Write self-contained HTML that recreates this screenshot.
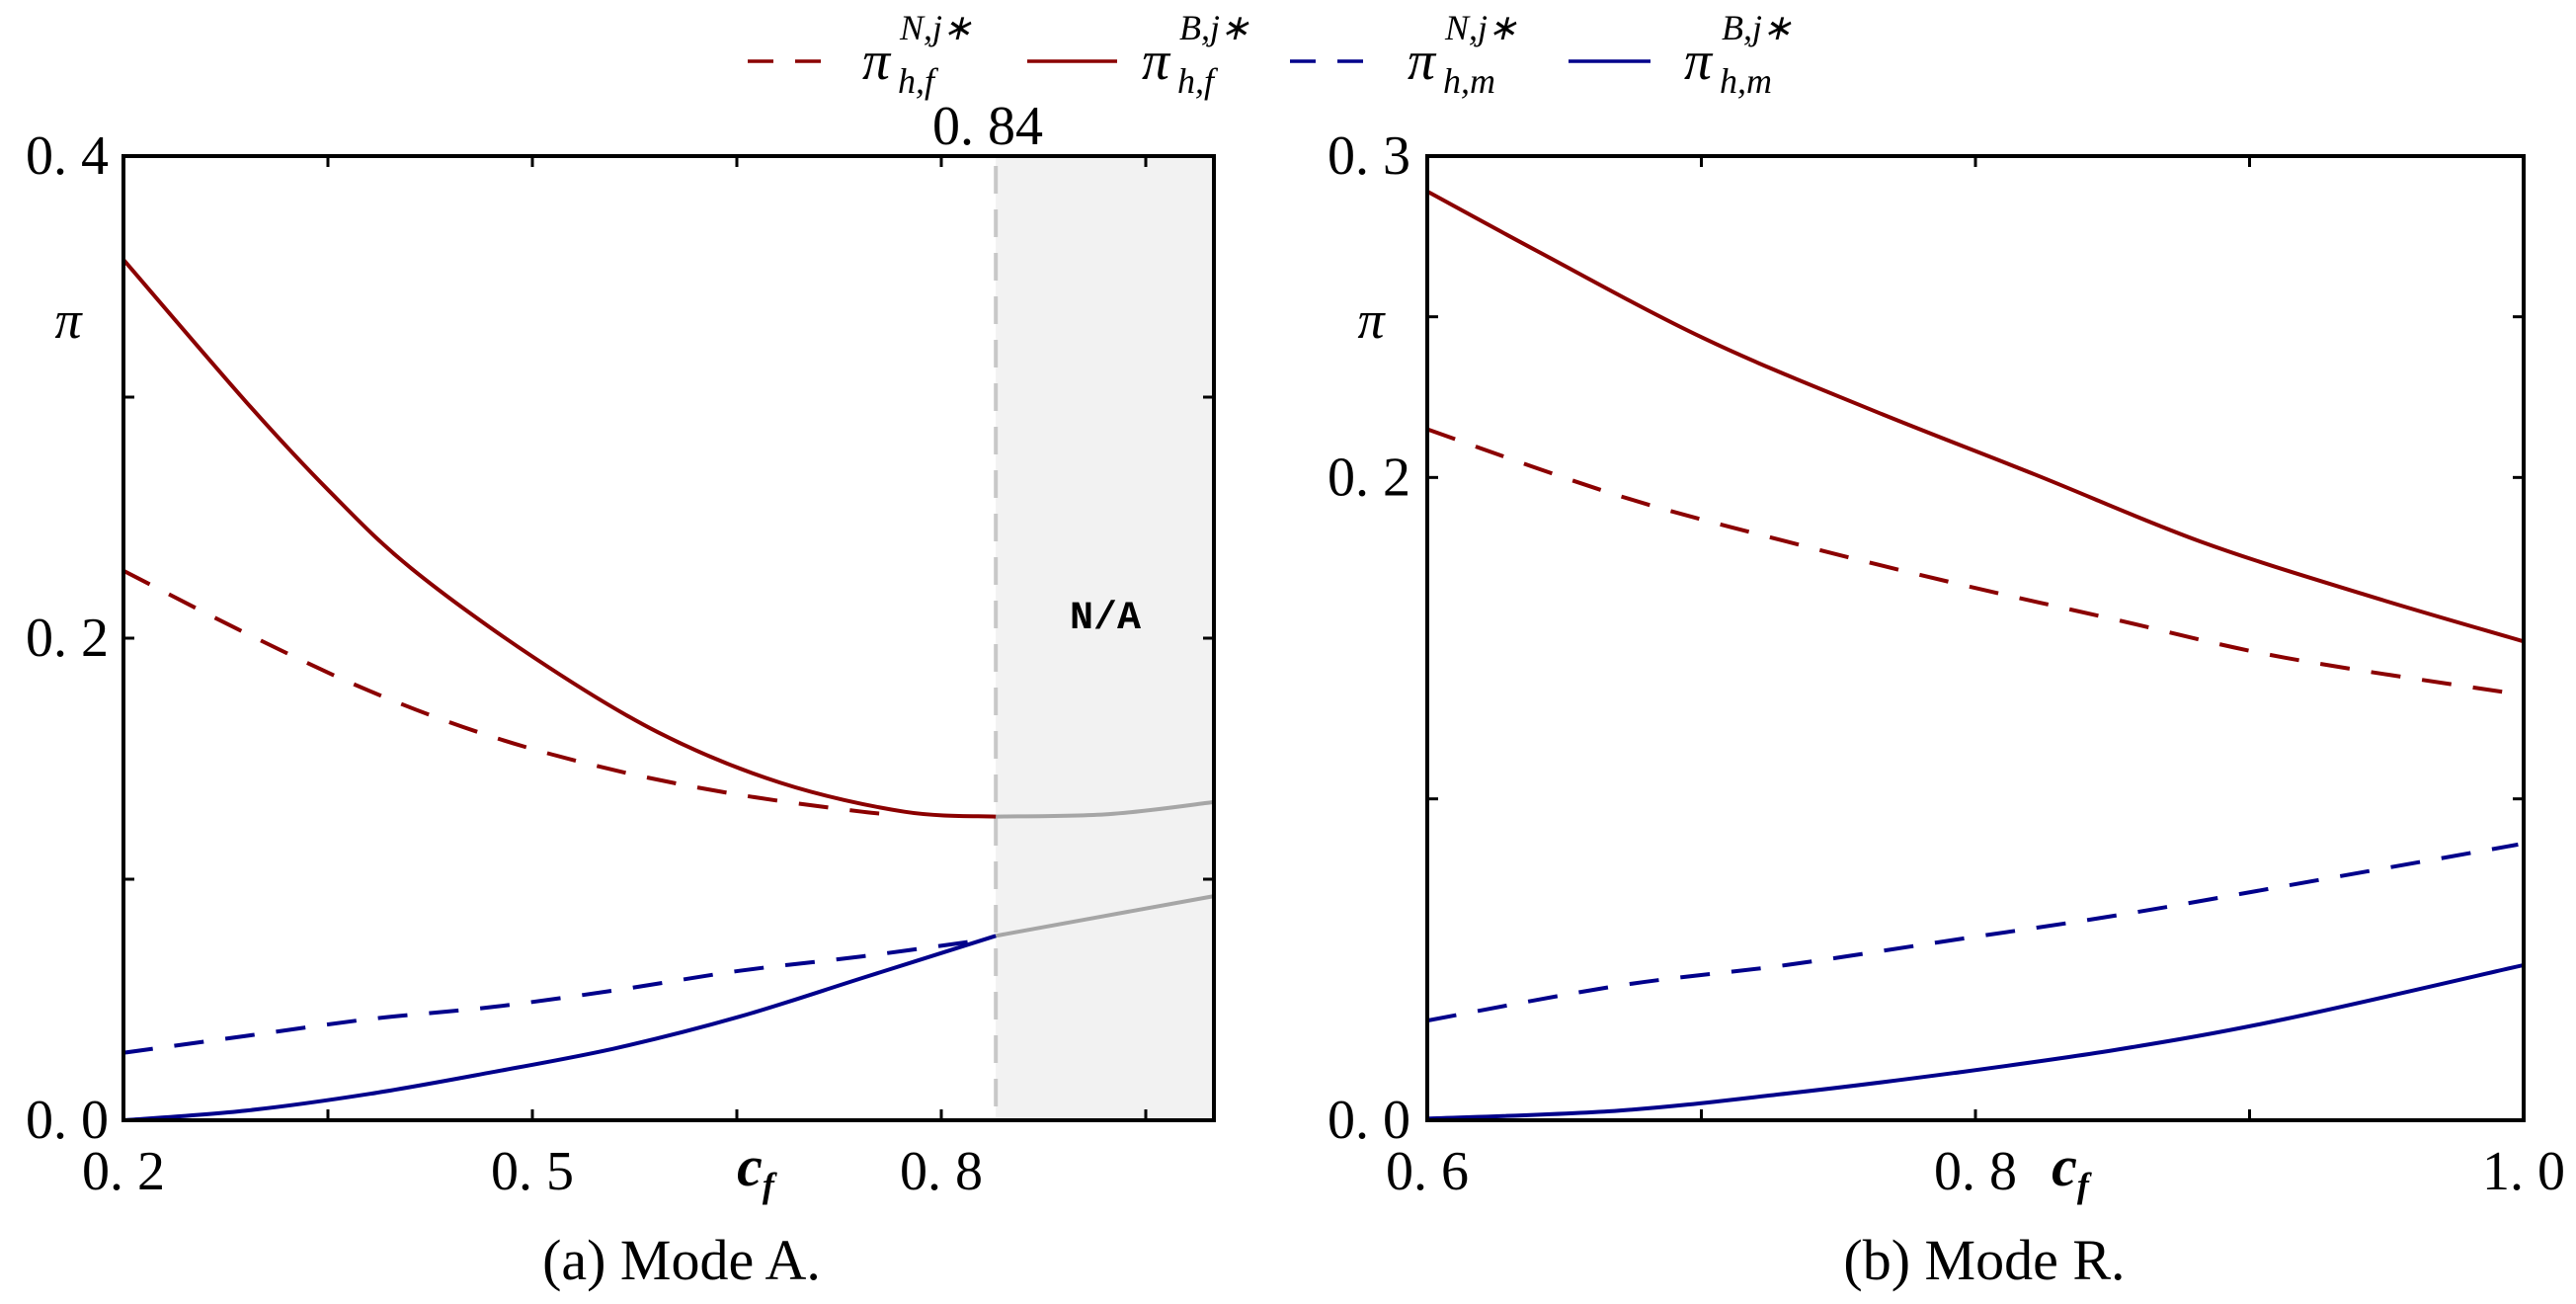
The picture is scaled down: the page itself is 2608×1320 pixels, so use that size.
<!DOCTYPE html>
<html><head><meta charset="utf-8"><style>
html,body{margin:0;padding:0;background:#fff}
svg{display:block}
.tick{font-family:"Liberation Serif",serif;font-size:56px;fill:#000}
.cap{font-family:"Liberation Serif",serif;font-size:58px;fill:#000}
.sym{font-family:"Liberation Serif",serif;font-style:italic;fill:#000}
</style></head><body>
<svg id="chart" width="2608" height="1320" viewBox="0 0 2608 1320" xmlns="http://www.w3.org/2000/svg">
<g id="legend"></g>
<g id="pa"></g>
<g id="pb"></g>
</svg>
<script>
// Panel A data
const aX_Bf=[0.2,0.29,0.351,0.411,0.501,0.592,0.682,0.773,0.84];
const aY_Bf=[0.357,0.298,0.261,0.229,0.192,0.161,0.140,0.128,0.126];
const aX_Bf_gray=[0.84,0.923,1.0];
const aY_Bf_gray=[0.126,0.127,0.132];
const aX_Nf=[0.2,0.29,0.381,0.471,0.562,0.652,0.742,0.767];
const aY_Nf=[0.228,0.202,0.178,0.159,0.145,0.135,0.128,0.127];
const aX_Nm=[0.2,0.29,0.381,0.471,0.562,0.652,0.742,0.833];
const aY_Nm=[0.028,0.035,0.042,0.047,0.054,0.062,0.068,0.075];
const aX_Bm=[0.2,0.29,0.381,0.471,0.562,0.652,0.742,0.84];
const aY_Bm=[0.0,0.004,0.011,0.02,0.03,0.043,0.059,0.0765];
const aX_Bm_gray=[0.84,1.0];
const aY_Bm_gray=[0.0765,0.093];
const aXTicks=[0.2,0.35,0.5,0.65,0.8,0.95];
const aXLabels=["0. 2","","0. 5","","0. 8",""];
const aYTicks=[0,0.1,0.2,0.3,0.4];
const aYLabels=["0. 0","","0. 2","","0. 4"];
const aThreshold=0.84;
// Panel B data
const bX=[0.6,0.64,0.7006,0.761,0.822,0.882,0.943,1.0];
const bY_Bf=[0.289,0.2705,0.2434,0.2214,0.2008,0.1801,0.1633,0.149];
const bX_Nf=[0.6,0.670,0.731,0.792,0.852,0.913,1.0];
const bY_Nf=[0.215,0.1943,0.1801,0.1672,0.1556,0.1439,0.1323];
const bX_m=[0.6,0.670,0.731,0.792,0.852,0.913,0.998];
const bY_Nm=[0.031,0.0419,0.0483,0.0561,0.0638,0.0729,0.0858];
const bX_Bm=[0.6,0.670,0.731,0.792,0.852,0.913,1.0];
const bY_Bm=[0.0005,0.003,0.0083,0.0147,0.022,0.0315,0.0483];
const bXTicks=[0.6,0.7,0.8,0.9,1.0];
const bXLabels=["0. 6","","0. 8","","1. 0"];
const bYTicks=[0,0.1,0.2,0.25,0.3];
const bYLabels=["0. 0","","0. 2","","0. 3"];

const NS="http://www.w3.org/2000/svg";
const RED="#8b0000",BLUE="#00008b",GRAY="#a6a6a6";
function mk(parent,tag,attrs,text){const e=document.createElementNS(NS,tag);for(const k in attrs)e.setAttribute(k,attrs[k]);if(text!==undefined)e.textContent=text;parent.appendChild(e);return e;}
function scale(d0,d1,r0,r1){return v=>r0+(v-d0)/(d1-d0)*(r1-r0);}
function smoothPath(P){
  let d="M"+P[0][0].toFixed(1)+","+P[0][1].toFixed(1);
  for(let i=0;i<P.length-1;i++){
    const p0=P[i-1]||P[i],p1=P[i],p2=P[i+1],p3=P[i+2]||P[i+1];
    const c1=[p1[0]+(p2[0]-p0[0])/6,p1[1]+(p2[1]-p0[1])/6];
    const c2=[p2[0]-(p3[0]-p1[0])/6,p2[1]-(p3[1]-p1[1])/6];
    d+=" C"+c1.map(v=>v.toFixed(1)).join(",")+" "+c2.map(v=>v.toFixed(1)).join(",")+" "+p2[0].toFixed(1)+","+p2[1].toFixed(1);
  }
  return d;
}
function line(g,xs,ys,sx,sy,color,dash,name){
  const P=xs.map((x,i)=>[sx(x),sy(ys[i])]);
  const p=mk(g,"path",{d:smoothPath(P),fill:"none",stroke:color,"stroke-width":4,"stroke-linejoin":"round"});
  if(dash)p.setAttribute("stroke-dasharray","30,22");
  
  
}
function axes(g,L,R,T,B,sx,sy,xt,xl,yt,yl,yLabelX){
  const f=mk(g,"rect",{x:L,y:T,width:R-L,height:B-T,fill:"none",stroke:"#000","stroke-width":4});
  
  
  xt.forEach((v,i)=>{const x=sx(v);
    mk(g,"line",{x1:x,y1:B,x2:x,y2:B-11,stroke:"#000","stroke-width":3});
    mk(g,"line",{x1:x,y1:T,x2:x,y2:T+11,stroke:"#000","stroke-width":3});
    if(xl[i]){const t=mk(g,"text",{x:x,y:B+70,"text-anchor":"middle",class:"tick"},xl[i]);
      
      }
  });
  yt.forEach((v,i)=>{const y=sy(v);
    mk(g,"line",{x1:L,y1:y,x2:L+11,y2:y,stroke:"#000","stroke-width":3});
    mk(g,"line",{x1:R,y1:y,x2:R-11,y2:y,stroke:"#000","stroke-width":3});
    if(yl[i]){const t=mk(g,"text",{x:yLabelX,y:y+18,"text-anchor":"end",class:"tick"},yl[i]);
      
      }
  });
}
// Panel A
(function(){
  const g=document.getElementById("pa");
  const L=125,R=1229,T=158,B=1134;
  const sx=scale(0.2,1.0,L,R),sy=scale(0,0.4,B,T);
  const xs=sx(aThreshold);
  const sh=mk(g,"rect",{x:xs,y:T,width:R-xs,height:B-T,fill:"#f2f2f2"});
  
  
  const vl=mk(g,"line",{x1:xs,y1:T+10,x2:xs,y2:B,stroke:"#c8c8c8","stroke-width":4,"stroke-dasharray":"28,16"});
  
  
  const na=mk(g,"text",{x:1119,y:636,"text-anchor":"middle","font-family":"Liberation Mono,monospace","font-weight":"bold","font-size":"40"},"N/A");
  
  
  const th=mk(g,"text",{x:1000,y:146,"text-anchor":"middle",class:"tick","font-size":"46"},"0. 84");
  
  
  line(g,aX_Bf_gray,aY_Bf_gray,sx,sy,GRAY,false,'bf-gray');
  line(g,aX_Bm_gray,aY_Bm_gray,sx,sy,GRAY,false,'bm-gray');
  line(g,aX_Nf,aY_Nf,sx,sy,RED,true,'series-n-hf');
  line(g,aX_Bf,aY_Bf,sx,sy,RED,false,'series-b-hf');
  line(g,aX_Nm,aY_Nm,sx,sy,BLUE,true,'series-n-hm');
  line(g,aX_Bm,aY_Bm,sx,sy,BLUE,false,'series-b-hm');
  axes(g,L,R,T,B,sx,sy,aXTicks,aXLabels,aYTicks,aYLabels,110);
  const yt=mk(g,"text",{x:69,y:342,"text-anchor":"middle",class:"sym","font-size":"54"},"π");
  
  
  const xt=mk(g,"text",{x:765,y:1200,"text-anchor":"middle",class:"sym","font-size":"58","font-weight":"bold"},"c");
  mk(xt,"tspan",{"font-size":"36",dy:"12"},"f");
  
  
  const c=mk(g,"text",{x:690,y:1295,"text-anchor":"middle",class:"cap"},"(a) Mode A.");
  
  
})();
// Panel B
(function(){
  const g=document.getElementById("pb");
  const L=1445,R=2555,T=158,B=1134;
  const sx=scale(0.6,1.0,L,R),sy=scale(0,0.3,B,T);
  line(g,bX_Nf,bY_Nf,sx,sy,RED,true,'series-n-hf');
  line(g,bX,bY_Bf,sx,sy,RED,false,'series-b-hf');
  line(g,bX_m,bY_Nm,sx,sy,BLUE,true,'series-n-hm');
  line(g,bX_Bm,bY_Bm,sx,sy,BLUE,false,'series-b-hm');
  axes(g,L,R,T,B,sx,sy,bXTicks,bXLabels,bYTicks,bYLabels,1428);
  const yt=mk(g,"text",{x:1388,y:342,"text-anchor":"middle",class:"sym","font-size":"54"},"π");
  
  
  const xt=mk(g,"text",{x:2096,y:1200,"text-anchor":"middle",class:"sym","font-size":"58","font-weight":"bold"},"c");
  mk(xt,"tspan",{"font-size":"36",dy:"12"},"f");
  
  
  const c=mk(g,"text",{x:2009,y:1295,"text-anchor":"middle",class:"cap"},"(b) Mode R.");
  
  
})();
// Legend
(function(){
  const g=document.getElementById("legend");
  const items=[[757,832,873,RED,true,"N","f"],[1040,1131,1156,RED,false,"B","f"],[1306,1380,1425,BLUE,true,"N","m"],[1588,1671,1705,BLUE,false,"B","m"]];
  items.forEach(it=>{
    const e=mk(g,"g",{});
    
    
    const l=mk(e,"line",{x1:it[0],y1:62,x2:it[1],y2:62,stroke:it[3],"stroke-width":3.5});
    if(it[4])l.setAttribute("stroke-dasharray","26,22");
    mk(e,"text",{x:it[2],y:80,class:"sym","font-size":"56"},"π");
    mk(e,"text",{x:it[2]+38,y:40,class:"sym","font-size":"36"},it[5]+",j∗");
    mk(e,"text",{x:it[2]+36,y:94,class:"sym","font-size":"36"},"h,"+it[6]);
  });
})();
</script>
</body></html>
